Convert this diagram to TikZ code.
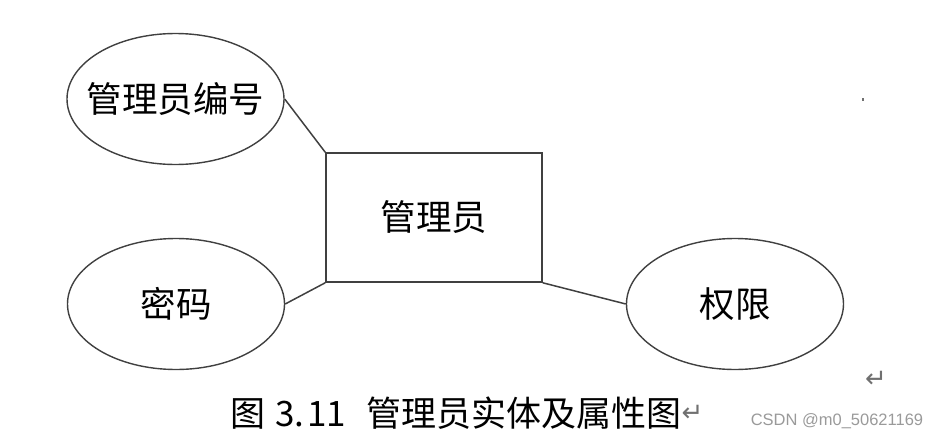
\documentclass[tikz,border=0pt]{standalone}
\usepackage{fontspec}
\setmainfont{Noto Sans CJK SC}
\newfontfamily\cjk{Noto Sans CJK SC}
\newfontfamily\wmfont{Liberation Sans}
\newfontfamily\symfont{DejaVu Sans}
\usetikzlibrary{shapes.geometric}
\definecolor{edgecol}{HTML}{404040}
\definecolor{wmcol}{HTML}{9A9A9A}
\definecolor{retcol}{HTML}{707070}
\newcommand{\zbox}[1]{\makebox[0pt]{#1}}
\begin{document}
\begin{tikzpicture}[x=1pt,y=-1pt,
  attr/.style={ellipse,draw=edgecol,line width=1.4pt,inner sep=0pt,minimum width=217pt,minimum height=131pt,font=\cjk\fontsize{35.5}{35.5}\selectfont},
  entity/.style={rectangle,draw=edgecol,line width=1.6pt,inner sep=0pt,minimum width=216pt,minimum height=129pt,font=\cjk\fontsize{35.5}{35.5}\selectfont},
  conn/.style={draw=edgecol,line width=1.5pt}]
\useasboundingbox (0,0) rectangle (940,439);
\node[entity] (r) at (434,217.5) {管理员};
\node[attr] (e1) at (175.5,99) {\zbox{管理员编号}};
\node[attr] (e2) at (176,304) {\zbox{密码}};
\node[attr] (e3) at (735,304) {\zbox{权限}};
\draw[conn] (e1.east) -- (r.north west);
\draw[conn] (e2.east) -- (r.south west);
\draw[conn] (r.south east) -- (e3.west);
\node[inner sep=0pt,anchor=west,font=\cjk\fontsize{35}{35}\selectfont] (cap) at (230,413) {图\hspace{10pt}3.\hspace{3pt}11\hspace{20pt}管理员实体及属性图};
\node[inner sep=0pt,anchor=west,text=retcol,font=\symfont\fontsize{26}{26}\selectfont] (capret) at (cap.east) {↵};
\node[inner sep=0pt,text=retcol,font=\symfont\fontsize{26}{26}\selectfont] (ret) at (876,379) {↵};
\node[inner sep=0pt,text=wmcol,font=\wmfont\fontsize{16.5}{16.5}\selectfont] (wmk) at (837,421) {CSDN @m0\_50621169};
\fill[retcol] (862,98) rectangle (864,101);
\end{tikzpicture}
\end{document}
